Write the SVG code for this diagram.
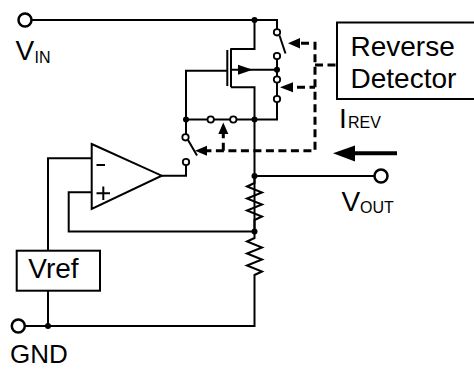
<svg xmlns="http://www.w3.org/2000/svg" width="474" height="369" viewBox="0 0 474 369">
<style>
.w{fill:none;stroke:#000;stroke-width:2}
.d{fill:none;stroke:#000;stroke-width:3;stroke-dasharray:8,4.5}
.t{font-family:"Liberation Sans",Arial,sans-serif;fill:#000}
.big{font-size:28px}
.sub{font-size:16px}
.term{fill:#fff;stroke:#000;stroke-width:2.5}
.sw{fill:#fff;stroke:#000;stroke-width:1.8}
.dot{fill:#000}
.ah{fill:#000}
</style>
<rect width="474" height="369" fill="#fff"/>
<g id="connectors">
<path class="w" d="M32 20 H277 V29"/>
<path class="w" d="M254.5 20 V49 H231"/>
<path class="w" d="M231 48.3 V87.3 M227.3 50 V86"/>
<path class="w" d="M186 119.5 V70.7 H227.3"/>
<path class="w" d="M231 69.7 H277"/>
<path class="w" d="M231 87.3 H254.5 V231.5"/>
<path class="w" d="M277 59 V76.5 M277 82.5 V96 M277 102 V119.5 H186 V134.3"/>
<path class="w" d="M279.5 35.5 L285.5 53.5"/>
<path class="w" d="M188 140 L197 155.5"/>
<path class="w" d="M186 165 V175.7 H161.7"/>
<path class="w" d="M91.7 158.3 H48 V250.7 M48 290.7 V326"/>
<path class="w" d="M91.7 192.3 H68.7 V231.5 H254.5"/>
<path class="w" d="M254.5 176 H374"/>
<path class="w" d="M254.5 176 V183 L247 186.5 L262 192.5 L247 198.5 L262 204.5 L247 210.5 L262 216.5 L254.5 220 V238 L247 241.5 L262 247.5 L247 253.5 L262 259.5 L247 265.5 L262 271.5 L254.5 275 V326 H25.5"/>
<path class="d" d="M301 43.3 H315 V150.7 H207"/>
<path class="d" d="M315 65 H337"/>
<path class="d" d="M297 87.3 H315"/>
<path class="d" d="M223.3 150.7 V134"/>
<polygon class="ah" points="288,43.3 300,38 300,48.6"/>
<polygon class="ah" points="280,87.3 293,82.3 293,92.3"/>
<polygon class="ah" points="195,150.7 207,145.7 207,155.7"/>
<polygon class="ah" points="223.3,122.5 228.3,134 218.3,134"/>
<polygon class="ah" points="238,64.7 252.7,69.7 238,74.7"/>
<path d="M397 153.3 H352" stroke="#000" stroke-width="4" fill="none"/>
<polygon class="ah" points="333,153.3 355,145.5 355,161.5"/>
</g>
<g id="dots">
<circle class="dot" cx="254.5" cy="20" r="3"/>
<circle class="dot" cx="277" cy="69.7" r="3"/>
<circle class="dot" cx="186" cy="119.5" r="3"/>
<circle class="dot" cx="254.5" cy="119.5" r="3"/>
<circle class="dot" cx="254.5" cy="176" r="3"/>
<circle class="dot" cx="254.5" cy="231.5" r="3"/>
<circle class="dot" cx="48" cy="326" r="3"/>
</g>
<g id="switches">
<circle class="sw" cx="277" cy="32.3" r="3.2"/>
<circle class="sw" cx="277" cy="56" r="3.2"/>
<circle class="sw" cx="277" cy="79.5" r="3.2"/>
<circle class="sw" cx="277" cy="99" r="3.2"/>
<circle class="sw" cx="210.7" cy="119.5" r="3.2"/>
<circle class="sw" cx="233.3" cy="119.5" r="3.2"/>
<circle class="sw" cx="185.5" cy="137.3" r="3.2"/>
<circle class="sw" cx="186" cy="162" r="3.2"/>
</g>
<g id="vin">
<circle class="term" cx="25" cy="20" r="6.5"/>
<text class="t big" x="15.5" y="60">V</text>
<text class="t sub" x="34.5" y="62.5">IN</text>
</g>
<g id="vout">
<circle class="term" cx="381" cy="176" r="6.5"/>
<text class="t big" x="341.5" y="211">V</text>
<text class="t sub" x="360" y="213">OUT</text>
</g>
<g id="irev">
<text class="t big" x="339" y="127.7">I</text>
<text class="t sub" x="348" y="128">REV</text>
</g>
<g id="gnd">
<circle class="term" cx="18.3" cy="326" r="6.5"/>
<text class="t" font-size="26" x="10" y="363">GND</text>
</g>
<g id="opamp">
<polygon points="91.7,144 161.7,175.7 91.7,209" fill="#fff" stroke="#000" stroke-width="2"/>
<path class="w" d="M96.5 165 H105"/>
<path class="w" d="M96.5 193.3 H110 M103.3 186.5 V200"/>
</g>
<g id="vref">
<rect x="16.7" y="250.7" width="83.3" height="40" fill="#fff" stroke="#000" stroke-width="2"/>
<text class="t big" x="28.3" y="278.3">Vref</text>
</g>
<g id="detector">
<rect x="337" y="22.5" width="150" height="76.5" fill="#fff" stroke="#000" stroke-width="2"/>
<text class="t big" x="350.5" y="55.5">Reverse</text>
<text class="t big" x="350.5" y="88">Detector</text>
</g>
</svg>
